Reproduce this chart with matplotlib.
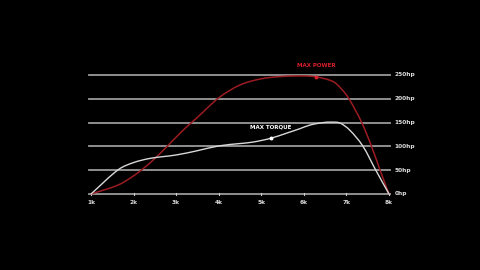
import matplotlib
matplotlib.use("Agg")
import matplotlib.pyplot as plt
import numpy as np
from matplotlib.path import Path
from matplotlib.patches import PathPatch

power_rpm = [1.0, 1.64, 2.03, 2.42, 2.82, 3.21, 3.5, 4.0, 4.5, 5.0, 5.5, 6.0, 6.29, 6.69, 6.89, 7.06, 7.36, 7.59, 7.79, 8.0]
power = [0, 19, 40, 68, 103, 138, 161, 202, 229, 242, 247, 248, 246, 236, 220, 200, 150, 100, 50, 0]
torque_rpm = [1.0, 1.64, 2.0, 2.4, 3.0, 3.5, 4.0, 4.5, 4.8, 5.22, 5.6, 5.9, 6.15, 6.45, 6.65, 6.85, 7.08, 7.39, 7.69, 8.0]
torque = [0, 51, 66, 75, 82, 91, 101, 106, 109, 117, 128, 137, 145, 150, 151, 149, 134, 100, 50, 0]

x_ticks = [1, 2, 3, 4, 5, 6, 7, 8]
x_labels = ["1k", "2k", "3k", "4k", "5k", "6k", "7k", "8k"]
y_ticks = [0, 50, 100, 150, 200, 250]
y_labels = ["0hp", "50hp", "100hp", "150hp", "200hp", "250hp"]

max_power_rpm, max_power_val = 6.29, 246
max_torque_rpm, max_torque_val = 5.22, 117

RED = "#9c1c22"
RED_TXT = "#d8202a"
WHITE = "#d8d8d8"
GRID = "#9a9a9a"


def smooth_path(xs, ys):
    xs = np.asarray(xs, float)
    ys = np.asarray(ys, float)
    n = len(xs)
    m = np.zeros(n)
    for i in range(n):
        if i == 0:
            m[i] = (ys[1] - ys[0]) / (xs[1] - xs[0])
        elif i == n - 1:
            m[i] = (ys[-1] - ys[-2]) / (xs[-1] - xs[-2])
        else:
            m[i] = (ys[i + 1] - ys[i - 1]) / (xs[i + 1] - xs[i - 1])
    verts = [(xs[0], ys[0])]
    codes = [Path.MOVETO]
    for i in range(n - 1):
        h = xs[i + 1] - xs[i]
        verts += [(xs[i] + h / 3, ys[i] + m[i] * h / 3),
                  (xs[i + 1] - h / 3, ys[i + 1] - m[i + 1] * h / 3),
                  (xs[i + 1], ys[i + 1])]
        codes += [Path.CURVE4] * 3
    return Path(verts, codes)


fig = plt.figure(figsize=(4.8, 2.7), dpi=100, facecolor="black")
ax = fig.add_axes([91 / 480, 76 / 270, 298 / 480, 119 / 270])
ax.set_facecolor("black")
ax.set_xlim(1, 8)
ax.set_ylim(0, 250)
for s in ax.spines.values():
    s.set_visible(False)
ax.set_xticks([])
ax.set_yticks([])

for yv, lab in zip(y_ticks, y_labels):
    ax.plot([0.96, 8.02], [yv, yv], color=GRID, lw=1.3, clip_on=False, zorder=1)
    ax.text(8.13, yv, lab, color="#dddddd", fontsize=4.2, fontweight="bold",
            va="center", ha="left", clip_on=False)

for xv, lab in zip(x_ticks, x_labels):
    ax.plot([xv, xv], [-2, 2], color="#cccccc", lw=0.8, clip_on=False, zorder=2)
    ax.text(xv, -18, lab, color="#dddddd", fontsize=4.2, fontweight="bold",
            ha="center", va="center", clip_on=False)

ax.add_patch(PathPatch(smooth_path(power_rpm, power), facecolor="none", edgecolor=RED,
                       lw=1.1, clip_on=False, zorder=3))
ax.add_patch(PathPatch(smooth_path(torque_rpm, torque), facecolor="none", edgecolor=WHITE,
                       lw=1.0, clip_on=False, zorder=4))

ax.plot([max_power_rpm], [max_power_val], marker="o", ms=1.8, color=RED_TXT, clip_on=False, zorder=5)
ax.plot([max_torque_rpm], [max_torque_val], marker="o", ms=1.8, color="white", clip_on=False, zorder=5)
ax.text(max_power_rpm, 271, "MAX POWER", color=RED_TXT, fontsize=4.0, fontweight="bold",
        ha="center", va="center", clip_on=False)
ax.text(max_torque_rpm, 141, "MAX TORQUE", color="white", fontsize=4.0, fontweight="bold",
        ha="center", va="center", clip_on=False)

fig.savefig("out.png", dpi=100, facecolor="black")
